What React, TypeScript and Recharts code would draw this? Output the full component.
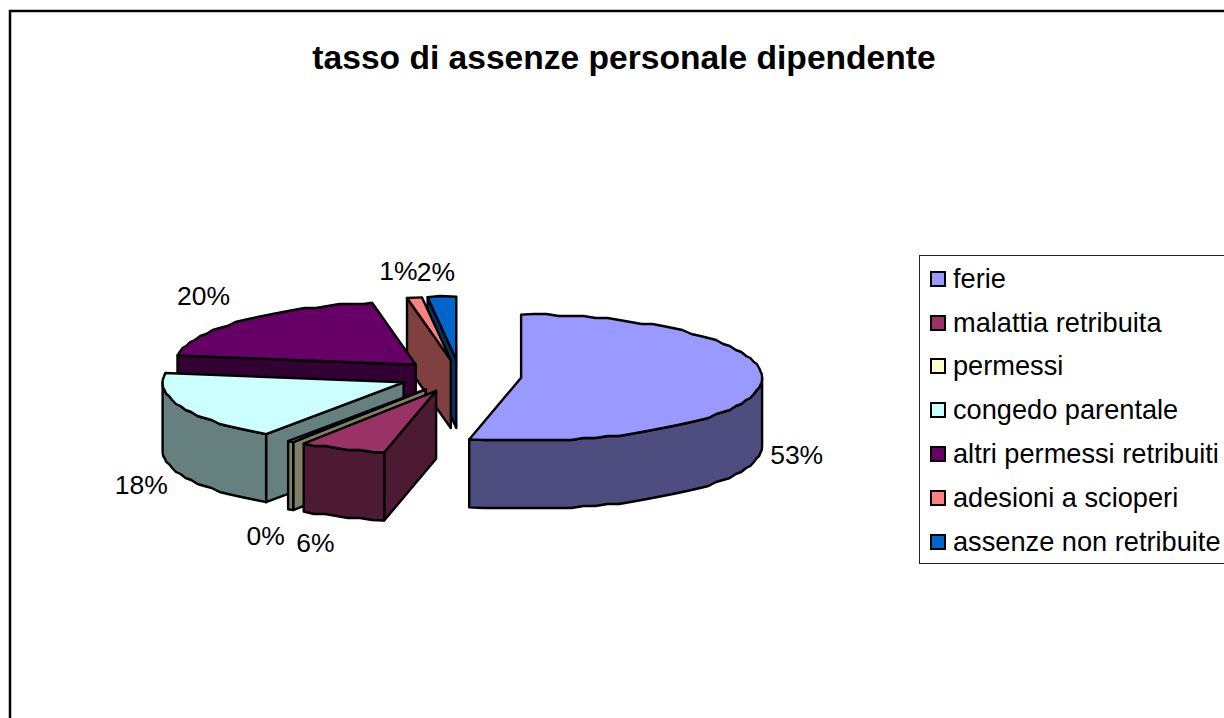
import { Legend, Pie, PieChart } from "recharts"

const CATEGORIES = [
  "ferie",
  "malattia retribuita",
  "permessi",
  "congedo parentale",
  "altri permessi retribuiti",
  "adesioni a scioperi",
  "assenze non retribuite",
]
const VALUES = [53.4, 5.8, 0.4, 17.7, 19.7, 1, 1.9]
const COLORS = ["#9999ff", "#993366", "#ffffcc", "#ccffff", "#660066", "#ff8080", "#0066cc"]

// slices are painted in array order, so going backwards round the pie gives back-to-front
const data = CATEGORIES.map((name, i) => ({ name, value: VALUES[i], fill: COLORS[i] })).reverse()

const FONT = "'Liberation Sans', Arial, sans-serif"
const RADIUS = 241
const SQUASH = 0.262
const DEPTH = 68
const EXPLODE = 0.255
const GRID = 2

// label position relative to the slice's outer edge
const LABEL_NUDGE: Record<string, [number, number]> = {
  ferie: [36, 70],
  "malattia retribuita": [-27, 94],
  permessi: [-25, 94],
  "congedo parentale": [-41, 78],
  "altri permessi retribuiti": [-39, -25],
  "adesioni a scioperi": [-16, -27],
  "assenze non retribuite": [-6, -25],
}

const rad = (d: number) => (d * Math.PI) / 180
const snap = (v: number) => Math.round(v / GRID) * GRID

function halfTone(hex: string) {
  const n = parseInt(hex.slice(1), 16)
  const c = [(n >> 16) & 255, (n >> 8) & 255, n & 255].map((v) => Math.round(v / 2))
  return `rgb(${c[0]},${c[1]},${c[2]})`
}

function apexOf(cx: number, cy: number, r: number, mid: number) {
  return [cx + EXPLODE * r * Math.sin(rad(mid)), cy - EXPLODE * r * SQUASH * Math.cos(rad(mid))]
}

function rimPoint(ax: number, ay: number, r: number, a: number) {
  return [ax + r * Math.sin(rad(a)), ay - r * SQUASH * Math.cos(rad(a))]
}

// the reference's rim is a slightly wobbly polyline
function rim(ax: number, ay: number, r: number, from: number, to: number) {
  const pts = [rimPoint(ax, ay, r, from)]
  for (let a = from + 3; a < to - 1; a += 3) {
    const p = rimPoint(ax, ay, r, a)
    pts.push([p[0], snap(p[1])])
  }
  pts.push(rimPoint(ax, ay, r, to))
  return pts
}

const toPath = (pts: number[][]) => "M" + pts.map((p) => `${p[0].toFixed(1)},${p[1].toFixed(1)}`).join("L") + "Z"

function Slice3D(props: any) {
  const { cx, cy, outerRadius, startAngle, endAngle, fill } = props
  // recharts angles run anticlockwise from 3 o'clock, here clockwise from 12
  const a0 = 450 - endAngle
  const a1 = 450 - startAngle
  const [ax, ay] = apexOf(cx, cy, outerRadius, (a0 + a1) / 2)
  const wall = halfTone(fill)
  const line = { stroke: "#000", strokeWidth: 2.4, strokeLinejoin: "round" as const }

  const cut = (a: number) => {
    const p = rimPoint(ax, ay, outerRadius, a)
    return toPath([[ax, ay], p, [p[0], p[1] + DEPTH], [ax, ay + DEPTH]])
  }
  const from = Math.max(a0, 90)
  const to = Math.min(a1, 270)
  let outer = ""
  if (to > from) {
    const top = rim(ax, ay, outerRadius, from, to)
    const bottom = top.map((p) => [p[0], p[1] + DEPTH]).reverse()
    outer = toPath([...top, ...bottom])
  }
  return (
    <g>
      {Math.sin(rad(a1)) > 0.001 && <path d={cut(a1)} fill={wall} {...line} />}
      {Math.sin(rad(a0)) < -0.001 && <path d={cut(a0)} fill={wall} {...line} />}
      {outer && <path d={outer} fill={wall} {...line} />}
      <path d={toPath([[ax, ay], ...rim(ax, ay, outerRadius, a0, a1)])} fill={fill} {...line} />
    </g>
  )
}

function renderLabel(props: any) {
  const { cx, cy, outerRadius, midAngle, name, percent } = props
  const mid = 90 - midAngle
  const [ax, ay] = apexOf(cx, cy, outerRadius, mid)
  const edge = rimPoint(ax, ay, outerRadius, mid)
  const nudge = LABEL_NUDGE[name]
  return (
    <text
      x={edge[0] + nudge[0]}
      y={edge[1] + nudge[1]}
      textAnchor="middle"
      dominantBaseline="central"
      fontFamily={FONT}
      fontSize={26.5}
      fill="#000"
    >
      {`${Math.round(percent * 100)}%`}
    </text>
  )
}

function LegendBox() {
  return (
    <div
      style={{
        width: 400,
        height: 309,
        border: "1.5px solid #222",
        background: "#fff",
        boxSizing: "border-box",
        paddingTop: 1,
      }}
    >
      {CATEGORIES.map((name, i) => (
        <div key={name} style={{ display: "flex", alignItems: "center", height: 43.8, fontFamily: FONT, fontSize: 27.2 }}>
          <span
            style={{
              width: 16,
              height: 16,
              marginLeft: 10,
              marginRight: 7,
              background: COLORS[i],
              border: "2px solid #000",
              boxSizing: "border-box",
            }}
          />
          {name}
        </div>
      ))}
    </div>
  )
}

export default function App() {
  return (
    <div style={{ position: "absolute", left: 0, top: 0, width: 1224, height: 718, overflow: "hidden", background: "#fff" }}>
      <PieChart width={1224} height={718} margin={{ top: 0, right: 0, bottom: 0, left: 0 }}>
        <rect x={10} y={11} width={1400} height={900} fill="#fff" stroke="#000" strokeWidth={2.5} />
        <text x={624} y={57} textAnchor="middle" dominantBaseline="central" fontFamily={FONT} fontSize={33.6} fontWeight="bold">
          tasso di assenze personale dipendente
        </text>
        <Pie
          data={data}
          dataKey="value"
          nameKey="name"
          cx={460}
          cy={376}
          innerRadius={0}
          outerRadius={RADIUS}
          startAngle={90}
          endAngle={450}
          stroke="#000"
          shape={Slice3D}
          label={renderLabel}
          labelLine={false}
          isAnimationActive={false}
        />
        <Legend content={<LegendBox />} wrapperStyle={{ position: "absolute", left: 919, top: 255, width: 400, bottom: "auto" }} />
      </PieChart>
    </div>
  )
}
